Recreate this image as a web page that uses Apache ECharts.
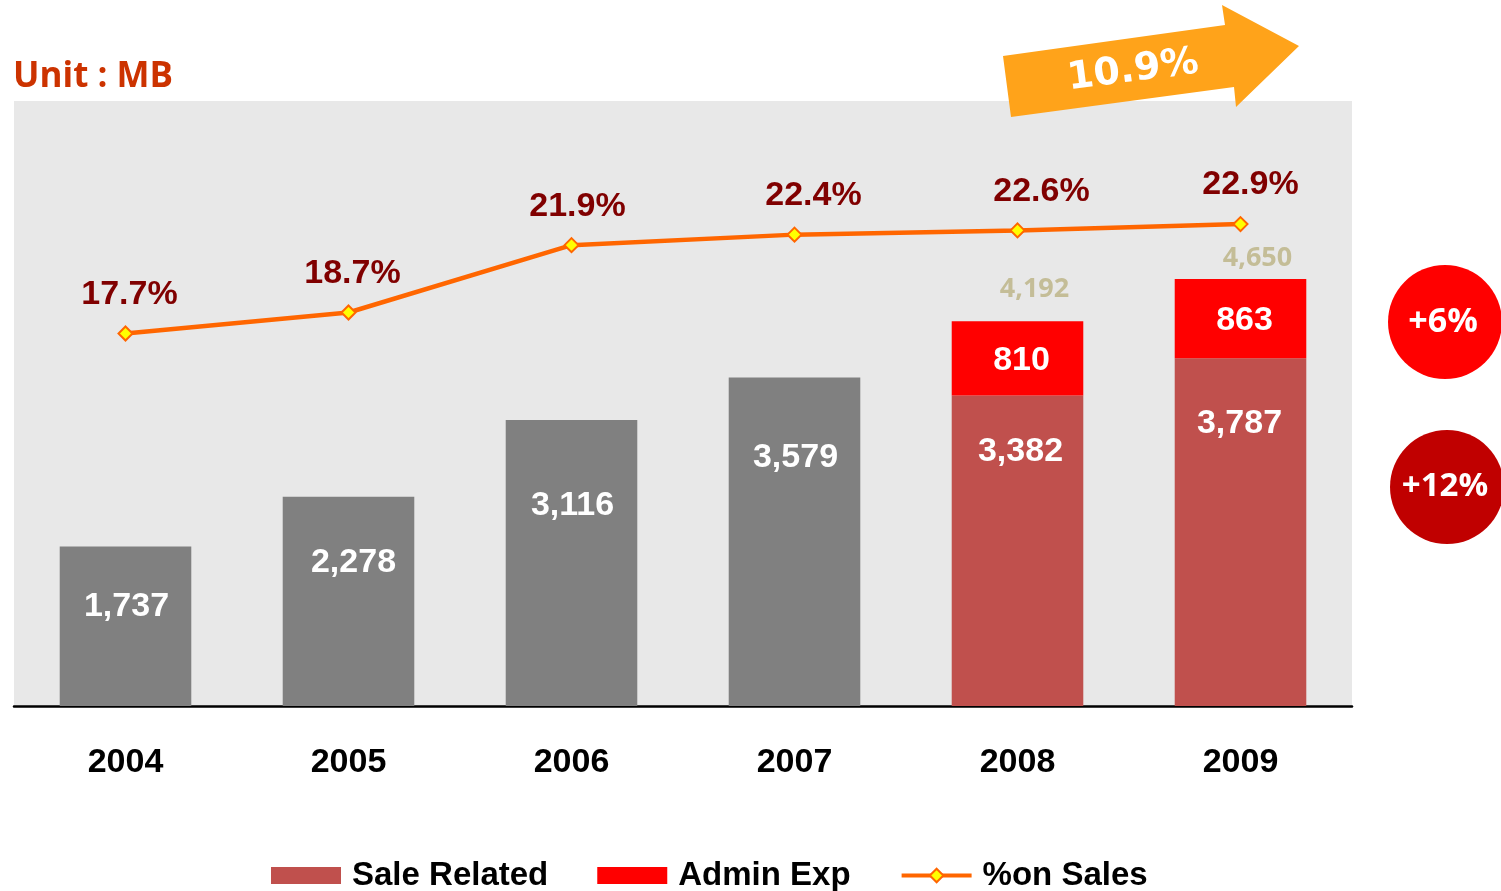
<!DOCTYPE html>
<html>
<head>
<meta charset="utf-8">
<script src="https://cdn.jsdelivr.net/npm/echarts@6/dist/echarts.min.js"></script>
<style>
  html, body { margin: 0; padding: 0; background: #fff; }
  #chart { width: 1501px; height: 891px; }
</style>
</head>
<body>
<div id="chart"></div>
<script>
// values
const years = ['2004', '2005', '2006', '2007', '2008', '2009']
const saleRelated = [1737, 2278, 3116, 3579, 3382, 3787]
const adminExp = [null, null, null, null, 810, 863]
const pctOnSales = [17.7, 18.7, 21.9, 22.4, 22.6, 22.9]
const growthTag = '10.9%'
const circleTags = ['+6%', '+12%']

// only the last two years are split into sale / admin
const splitFrom = 4
const totals = years.map((y, i) => (i >= splitFrom ? saleRelated[i] + adminExp[i] : null))

// small label nudges to sit where the original labels sit
const saleLabelDrop = [43, 49, 69, 63, 39, 48]
const saleLabelDx = [1, 5, 1, 1, 3, -1]
const pctLabelDx = [4, 4, 6, 19, 24, 10]
const totalLabelLift = [0, 0, 0, 0, 18, 7]

const chart = echarts.init(document.getElementById('chart'))

const numFmt = v => v.toLocaleString('en-US')

chart.setOption({
  animation: false,
  textStyle: { fontFamily: 'Liberation Sans' },
  grid: {
    left: 14,
    right: 149,
    top: 101,
    bottom: 185,
    show: true,
    backgroundColor: '#e8e8e8',
    borderWidth: 0
  },
  legend: {
    data: [
      { name: 'Sale Related', icon: 'rect' },
      { name: 'Admin Exp', icon: 'rect' },
      { name: '%on Sales', lineStyle: { width: 4 } }
    ],
    left: 266,
    top: 854,
    itemWidth: 70,
    itemHeight: 17,
    itemGap: 49,
    textStyle: {
      fontFamily: 'Liberation Sans',
      fontWeight: 'bold',
      fontSize: 33,
      color: '#000',
      padding: [0, 0, 0, 6]
    }
  },
  xAxis: {
    type: 'category',
    data: years,
    axisLine: { lineStyle: { color: '#000', width: 2.5 } },
    axisTick: { show: false },
    axisLabel: {
      margin: 40,
      fontFamily: 'Liberation Sans',
      fontWeight: 'bold',
      fontSize: 34,
      color: '#000'
    }
  },
  yAxis: [
    { type: 'value', min: 0, max: 6590, show: false, splitLine: { show: false } },
    { type: 'value', min: 0, max: 28.75, show: false, splitLine: { show: false } }
  ],
  series: [
    {
      name: 'Sale Related',
      type: 'bar',
      stack: 'exp',
      barWidth: '59%',
      itemStyle: { color: '#c0504d' },
      data: saleRelated.map((v, i) => ({
        value: v,
        itemStyle: { color: i < splitFrom ? '#808080' : '#c0504d' },
        label: { distance: saleLabelDrop[i], offset: [saleLabelDx[i], 0] }
      })),
      label: {
        show: true,
        position: 'insideTop',
        formatter: p => numFmt(p.value),
        color: '#fff',
        fontFamily: 'Liberation Sans',
        fontWeight: 'bold',
        fontSize: 34
      },
      z: 2
    },
    {
      name: 'Admin Exp',
      type: 'bar',
      stack: 'exp',
      barWidth: '59%',
      itemStyle: { color: '#ff0000' },
      data: adminExp,
      label: {
        show: true,
        position: 'inside',
        offset: [4, 2],
        formatter: p => numFmt(p.value),
        color: '#fff',
        fontFamily: 'Liberation Sans',
        fontWeight: 'bold',
        fontSize: 34
      },
      z: 2
    },
    {
      name: 'Total',
      type: 'line',
      data: totals.map((v, i) => ({
        value: v,
        label: { distance: totalLabelLift[i] }
      })),
      symbol: 'circle',
      symbolSize: 1,
      itemStyle: { color: 'transparent' },
      lineStyle: { opacity: 0 },
      label: {
        show: true,
        position: 'top',
        offset: [17, 0],
        formatter: p => numFmt(p.value),
        color: '#c4bd97',
        fontFamily: 'Open Sans',
        fontWeight: 'bold',
        fontSize: 27
      },
      tooltip: { show: false },
      z: 3
    },
    {
      name: '%on Sales',
      type: 'line',
      yAxisIndex: 1,
      data: pctOnSales.map((v, i) => ({
        value: v,
        label: { offset: [pctLabelDx[i], 0] }
      })),
      symbol: 'diamond',
      symbolSize: 14,
      lineStyle: { color: '#ff6600', width: 4.5 },
      itemStyle: { color: '#ffff00', borderColor: '#ff6600', borderWidth: 2 },
      label: {
        show: true,
        position: 'top',
        distance: 14,
        formatter: p => p.value.toFixed(1) + '%',
        color: '#800000',
        fontFamily: 'Liberation Sans',
        fontWeight: 'bold',
        fontSize: 34
      },
      z: 5
    }
  ],
  graphic: [
    {
      type: 'text',
      left: 13,
      top: 60,
      style: {
        text: 'Unit : MB',
        fill: '#cc3300',
        font: 'bold 35px "Open Sans"'
      }
    },
    {
      type: 'polygon',
      shape: {
        points: [
          [1011, 117], [1003, 56], [1225, 25], [1222, 5],
          [1299, 46], [1236, 107], [1234, 87]
        ]
      },
      style: { fill: '#ffa31a' },
      z: 10
    },
    {
      type: 'text',
      x: 1133,
      y: 71,
      rotation: 0.13,
      style: {
        text: growthTag,
        fill: '#fff',
        font: 'bold 38px "DejaVu Sans"',
        align: 'center',
        verticalAlign: 'middle'
      },
      z: 11
    },
    {
      type: 'circle',
      shape: { cx: 1445, cy: 322, r: 57 },
      style: { fill: '#ff0000' },
      z: 10
    },
    {
      type: 'text',
      x: 1443,
      y: 322,
      style: {
        text: circleTags[0],
        fill: '#fff',
        font: 'bold 34px "Open Sans"',
        align: 'center',
        verticalAlign: 'middle'
      },
      z: 11
    },
    {
      type: 'circle',
      shape: { cx: 1447, cy: 487, r: 57 },
      style: { fill: '#c00000' },
      z: 10
    },
    {
      type: 'text',
      x: 1445,
      y: 487,
      style: {
        text: circleTags[1],
        fill: '#fff',
        font: 'bold 33px "Open Sans"',
        align: 'center',
        verticalAlign: 'middle'
      },
      z: 11
    }
  ]
})
</script>
</body>
</html>
